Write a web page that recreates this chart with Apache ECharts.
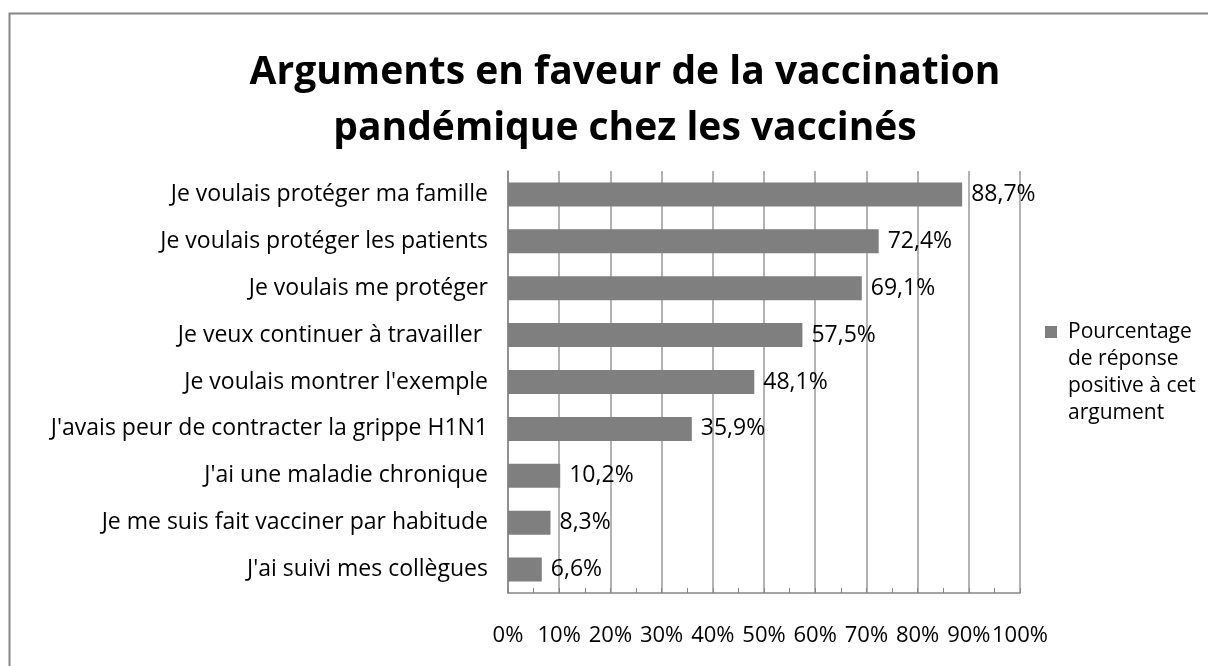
<!DOCTYPE html>
<html>
<head>
<meta charset="utf-8">
<title>Arguments en faveur de la vaccination</title>
<script src="https://cdn.jsdelivr.net/npm/echarts@6/dist/echarts.min.js"></script>
<style>
  * {margin: 0; padding: 0;}
  html, body {width: 1208px; height: 666px; background: #fff; overflow: hidden;}
</style>
</head>
<body>
<div id="chart" style="width:1208px;height:666px"></div>
<script>
// categories, top to bottom
var categories = [
  'Je voulais protéger ma famille',
  'Je voulais protéger les patients',
  'Je voulais me protéger',
  'Je veux continuer à travailler ',
  "Je voulais montrer l'exemple",
  "J'avais peur de contracter la grippe H1N1",
  "J'ai une maladie chronique",
  'Je me suis fait vacciner par habitude',
  "J'ai suivi mes collègues"
];
var values = [88.7, 72.4, 69.1, 57.5, 48.1, 35.9, 10.2, 8.3, 6.6];
var tickLabels = ['0%', '10%', '20%', '30%', '40%', '50%', '60%', '70%', '80%', '90%', '100%'];
var seriesName = 'Pourcentage\nde réponse\npositive à cet\nargument';

var font = 'Open Sans';
var chart = echarts.init(document.getElementById('chart'));

var option = {
  animation: false,
  textStyle: {fontFamily: font},
  title: {
    text: 'Arguments en faveur de la vaccination\npandémique chez les vaccinés',
    left: 620,
    top: 40,
    textAlign: 'center',
    textStyle: {fontFamily: font, fontSize: 39, fontWeight: 'bold', lineHeight: 56, color: '#000'}
  },
  graphic: [{
    type: 'rect',
    silent: true,
    shape: {x: 9.5, y: 13.5, width: 1400, height: 800},
    style: {fill: 'none', stroke: '#868686', lineWidth: 2}
  }],
  legend: {
    data: [seriesName],
    left: 1040,
    top: 314,
    itemWidth: 18,
    itemHeight: 108,
    // square sits beside the first line of the wrapped name
    icon: 'path://M0,7H12V19H0Z M18,0L18,0.01 M0,108L0.01,108',
    textStyle: {fontFamily: font, fontSize: 21, lineHeight: 27, color: '#000'}
  },
  grid: {left: 508, right: 188, top: 171, bottom: 73, containLabel: false},
  xAxis: {
    type: 'value',
    min: 0,
    max: 100,
    interval: 10,
    axisLine: {show: true, lineStyle: {color: '#868686', width: 1.5}},
    axisTick: {show: true, inside: true, length: 5, lineStyle: {color: '#868686'}},
    minorTick: {show: true, splitNumber: 2, length: 5, lineStyle: {color: '#868686'}},
    splitLine: {show: true, lineStyle: {color: '#9a9a9a', width: 1.5}},
    axisLabel: {
      margin: 32,
      fontSize: 22,
      color: '#000',
      hideOverlap: false,
      formatter: function (v) { return tickLabels[Math.round(v / 10)]; }
    }
  },
  yAxis: {
    type: 'category',
    inverse: true,
    data: categories,
    axisLine: {show: true, lineStyle: {color: '#868686', width: 1.5}},
    axisTick: {show: false},
    axisLabel: {margin: 20, fontSize: 23, color: '#000'}
  },
  series: [{
    name: seriesName,
    type: 'bar',
    data: values,
    barWidth: 24,
    itemStyle: {color: '#7f7f7f'},
    label: {
      show: true,
      position: 'right',
      distance: 9,
      fontSize: 23,
      color: '#000',
      formatter: function (p) { return p.value.toFixed(1).replace('.', ',') + '%'; }
    }
  }]
};

chart.setOption(option);
</script>
</body>
</html>
